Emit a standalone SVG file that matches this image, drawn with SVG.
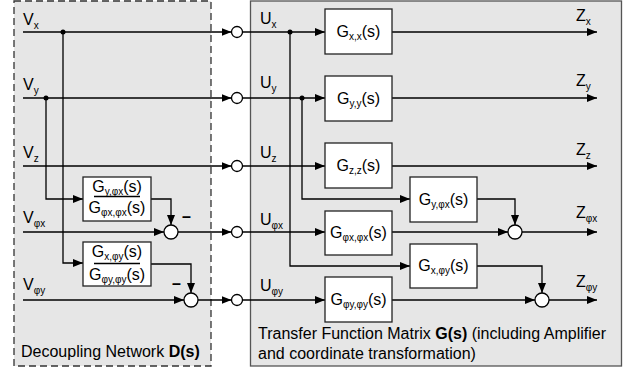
<svg xmlns="http://www.w3.org/2000/svg" width="638" height="374" viewBox="0 0 638 374">
<defs>
<marker id="ar" viewBox="0 0 10 8" refX="10" refY="4" markerWidth="10" markerHeight="8" markerUnits="userSpaceOnUse" orient="auto"><path d="M0,0 L10,4 L0,8 Z" fill="#000"/></marker>
</defs>
<style>
text{font-family:"Liberation Sans",Arial,sans-serif;font-size:16px;fill:#000}
.s{font-size:10px}
.blk{fill:#fff;stroke:#222;stroke-width:1.3}
.ln{fill:none;stroke:#000;stroke-width:1.3}
.a{marker-end:url(#ar)}
.c{fill:#fff;stroke:#000;stroke-width:1.3}
.d{fill:#000}
.b{font-weight:bold}
</style>
<rect width="638" height="374" fill="#fff"/>
<g id="decoupling">
<rect x="14" y="1" width="197" height="365" fill="#e6e6e6" stroke="#333" stroke-width="1.3" stroke-dasharray="7,4"/>
<text x="21" y="357">Decoupling Network <tspan class="b">D(s)</tspan></text>
</g>
<g id="plant">
<rect x="250.5" y="1" width="371" height="365" fill="#e6e6e6" stroke="#555" stroke-width="1.3"/>
<text x="258" y="339">Transfer Function Matrix <tspan class="b">G(s)</tspan> (including Amplifier</text>
<text x="258" y="359">and coordinate transformation)</text>
</g>
<g id="connectors">
<path class="ln a" d="M23,32H231.5"/>
<path class="ln a" d="M23,98H231.5"/>
<path class="ln a" d="M23,166H231.5"/>
<path class="ln a" d="M23,232H164"/>
<path class="ln a" d="M178,232H231.5"/>
<path class="ln a" d="M23,300H184"/>
<path class="ln a" d="M198,300H231.5"/>
<path class="ln a" d="M63,32V263H83"/>
<path class="ln a" d="M46,98V199H83"/>
<path class="ln a" d="M151,199H171V225"/>
<path class="ln a" d="M151,264H191V293"/>
<path class="ln a" d="M242.5,32H325"/>
<path class="ln a" d="M242.5,98H325"/>
<path class="ln a" d="M242.5,166H325"/>
<path class="ln a" d="M242.5,232H325"/>
<path class="ln a" d="M242.5,300H325"/>
<path class="ln a" d="M290,32V266H410"/>
<path class="ln a" d="M302,98V199H410"/>
<path class="ln a" d="M392,32H597"/>
<path class="ln a" d="M392,98H597"/>
<path class="ln a" d="M392,166H597"/>
<path class="ln a" d="M392,232H508"/>
<path class="ln a" d="M522,232H597"/>
<path class="ln a" d="M392,300H535"/>
<path class="ln a" d="M549,300H597"/>
<path class="ln a" d="M477,199H515V225"/>
<path class="ln a" d="M477,266H542V293"/>
<circle class="d" cx="63" cy="32" r="2.5"/>
<circle class="d" cx="46" cy="98" r="2.5"/>
<circle class="d" cx="290" cy="32" r="2.5"/>
<circle class="d" cx="302" cy="98" r="2.5"/>
</g>
<g id="ports">
<circle class="c" cx="237" cy="32" r="5.5"/>
<circle class="c" cx="237" cy="98" r="5.5"/>
<circle class="c" cx="237" cy="166" r="5.5"/>
<circle class="c" cx="237" cy="232" r="5.5"/>
<circle class="c" cx="237" cy="300" r="5.5"/>
</g>
<g id="labels">
<text x="23" y="25">V<tspan class="s" dy="4">x</tspan></text>
<text x="23" y="90">V<tspan class="s" dy="4">y</tspan></text>
<text x="23" y="158">V<tspan class="s" dy="4">z</tspan></text>
<text x="23" y="223">V<tspan class="s" dy="4">φx</tspan></text>
<text x="23" y="290">V<tspan class="s" dy="4">φy</tspan></text>
<text x="260" y="24">U<tspan class="s" dy="4">x</tspan></text>
<text x="260" y="88">U<tspan class="s" dy="4">y</tspan></text>
<text x="260" y="158">U<tspan class="s" dy="4">z</tspan></text>
<text x="260" y="225">U<tspan class="s" dy="4">φx</tspan></text>
<text x="260" y="291">U<tspan class="s" dy="4">φy</tspan></text>
<text x="576" y="21">Z<tspan class="s" dy="4">x</tspan></text>
<text x="576" y="86">Z<tspan class="s" dy="4">y</tspan></text>
<text x="576" y="155">Z<tspan class="s" dy="4">z</tspan></text>
<text x="576" y="218">Z<tspan class="s" dy="4">φx</tspan></text>
<text x="576" y="287">Z<tspan class="s" dy="4">φy</tspan></text>
<text x="182" y="222" class="b">–</text>
<text x="172" y="289" class="b">–</text>
</g>
<g id="D1">
<rect class="blk" x="83" y="177" width="68" height="44"/>
<path class="ln" d="M94,196.5H140"/>
<text x="117" y="192" text-anchor="middle">G<tspan class="s" dy="3">y,φx</tspan><tspan dy="-3">(s)</tspan></text>
<text x="117" y="213" text-anchor="middle">G<tspan class="s" dy="3">φx,φx</tspan><tspan dy="-3">(s)</tspan></text>
</g>
<g id="D2">
<rect class="blk" x="83" y="242" width="68" height="44"/>
<path class="ln" d="M94,263.5H140"/>
<text x="117" y="257" text-anchor="middle">G<tspan class="s" dy="3">x,φy</tspan><tspan dy="-3">(s)</tspan></text>
<text x="117" y="280" text-anchor="middle">G<tspan class="s" dy="3">φy,φy</tspan><tspan dy="-3">(s)</tspan></text>
</g>
<g id="S1"><circle class="c" cx="171" cy="232" r="7"/></g>
<g id="S2"><circle class="c" cx="191" cy="300" r="7"/></g>
<g id="Gxx">
<rect class="blk" x="325" y="9" width="67" height="45"/>
<text x="358.5" y="37" text-anchor="middle">G<tspan class="s" dy="3">x,x</tspan><tspan dy="-3">(s)</tspan></text>
</g>
<g id="Gyy">
<rect class="blk" x="325" y="76" width="67" height="45"/>
<text x="358.5" y="104" text-anchor="middle">G<tspan class="s" dy="3">y,y</tspan><tspan dy="-3">(s)</tspan></text>
</g>
<g id="Gzz">
<rect class="blk" x="325" y="143" width="67" height="45"/>
<text x="358.5" y="171" text-anchor="middle">G<tspan class="s" dy="3">z,z</tspan><tspan dy="-3">(s)</tspan></text>
</g>
<g id="Gpxpx">
<rect class="blk" x="325" y="211" width="67" height="44"/>
<text x="358.5" y="238" text-anchor="middle">G<tspan class="s" dy="3">φx,φx</tspan><tspan dy="-3">(s)</tspan></text>
</g>
<g id="Gpypy">
<rect class="blk" x="325" y="277" width="67" height="45"/>
<text x="358.5" y="305" text-anchor="middle">G<tspan class="s" dy="3">φy,φy</tspan><tspan dy="-3">(s)</tspan></text>
</g>
<g id="Gypx">
<rect class="blk" x="410" y="177" width="67" height="45"/>
<text x="443.5" y="205" text-anchor="middle">G<tspan class="s" dy="3">y,φx</tspan><tspan dy="-3">(s)</tspan></text>
</g>
<g id="Gxpy">
<rect class="blk" x="410" y="244" width="67" height="44"/>
<text x="443.5" y="271" text-anchor="middle">G<tspan class="s" dy="3">x,φy</tspan><tspan dy="-3">(s)</tspan></text>
</g>
<g id="S3"><circle class="c" cx="515" cy="232" r="7"/></g>
<g id="S4"><circle class="c" cx="542" cy="300" r="7"/></g>
</svg>
